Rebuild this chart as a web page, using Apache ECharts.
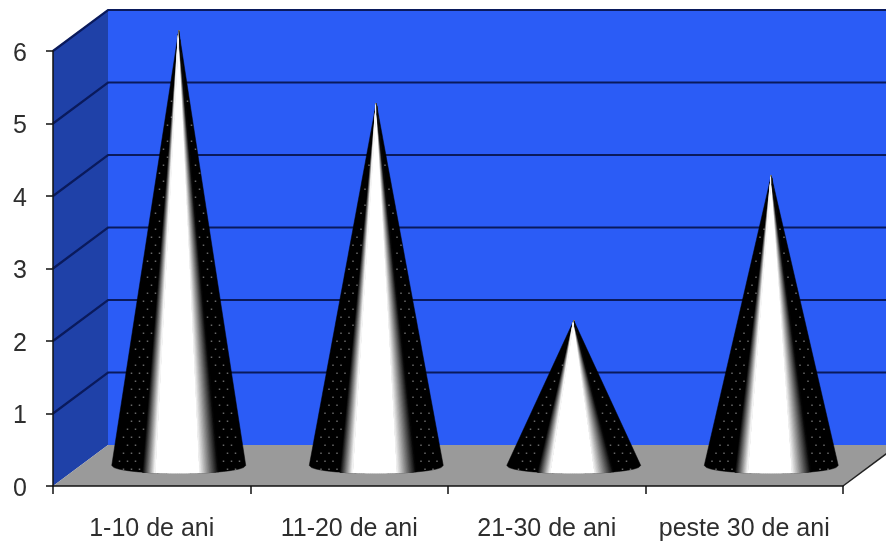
<!DOCTYPE html>
<html>
<head>
<meta charset="utf-8">
<style>html,body{margin:0;padding:0;background:#fff}#c{width:886px;height:544px}</style>
<script src="https://cdn.jsdelivr.net/npm/echarts@6/dist/echarts.min.js"></script>
</head>
<body>
<div id="c"></div>
<script>
const categories = ['1-10 de ani', '11-20 de ani', '21-30 de ani', 'peste 30 de ani'];
const values = [6, 5, 2, 4];
const yTicks = [0, 1, 2, 3, 4, 5, 6];

const DEPTH_X = 55, DEPTH_Y = 41;
const WALL = '#2b5cf6', SIDE = '#1f41a8', FLOOR = '#9a9a9a', GRID = '#0a1a5c';
const BASE_HALF = 67, BASE_RY = 8, DOT = 8;
const L0 = -0.54, L1 = -0.35, R0 = 0.31, R1 = 0.60, RAMP_STEPS = 30;

function grey(g) {
  const c = Math.round(g * 255);
  return 'rgb(' + c + ',' + c + ',' + c + ')';
}

function renderScene(params, api) {
  const cs = params.coordSys;
  const l = cs.x, r = cs.x + cs.width;
  const y0 = api.coord([0, 0])[1], yTop = api.coord([0, 6])[1];
  const poly = (pts, fill) => ({ type: 'polygon', shape: { points: pts }, style: { fill: fill } });
  return { type: 'group', children: [
    poly([[l + DEPTH_X, yTop - DEPTH_Y], [r + DEPTH_X, yTop - DEPTH_Y], [r + DEPTH_X, y0 - DEPTH_Y], [l + DEPTH_X, y0 - DEPTH_Y]], WALL),
    poly([[l, y0], [l, yTop], [l + DEPTH_X, yTop - DEPTH_Y], [l + DEPTH_X, y0 - DEPTH_Y]], SIDE),
    poly([[l, y0], [r, y0], [r + DEPTH_X, y0 - DEPTH_Y], [l + DEPTH_X, y0 - DEPTH_Y]], FLOOR),
    { type: 'line', shape: { x1: r, y1: y0, x2: r + DEPTH_X, y2: y0 - DEPTH_Y }, style: { stroke: '#222', lineWidth: 1.5 } }
  ] };
}

function renderGrid(params, api) {
  const cs = params.coordSys;
  const l = cs.x, r = cs.x + cs.width;
  const v = api.value(1), y = api.coord([0, v])[1];
  if (v === 0) return { type: 'group', children: [] };
  return { type: 'polyline', shape: { points: [[l, y], [l + DEPTH_X, y - DEPTH_Y], [r + DEPTH_X, y - DEPTH_Y]] },
    style: { stroke: GRID, lineWidth: 2.2, fill: null } };
}

function renderCone(params, api) {
  const p = api.coord([api.value(0), api.value(1)]);
  const b = api.coord([api.value(0), 0]);
  const cx = p[0] + DEPTH_X / 2 - 0.5, ay = p[1] - DEPTH_Y / 2, by = b[1] - DEPTH_Y / 2;
  const pt = t => [cx + t * BASE_HALF, by + BASE_RY * Math.sqrt(Math.max(0, 1 - t * t))];
  const sector = (t1, t2, col) => {
    const pts = [[cx, ay]];
    const n = Math.max(1, Math.ceil((t2 - t1) * 30));
    for (let i = 0; i <= n; i++) pts.push(pt(t1 + (t2 - t1) * i / n));
    return { type: 'polygon', shape: { points: pts }, style: { fill: col, stroke: col, lineWidth: 0.5 } };
  };
  const children = [sector(-1, 1, '#000'), sector(L1, R0, '#fff')];
  for (let i = 0; i < RAMP_STEPS; i++) {
    const a = i / RAMP_STEPS, c = (i + 1) / RAMP_STEPS, m = (a + c) / 2;
    children.push(sector(L0 + (L1 - L0) * a, L0 + (L1 - L0) * c, grey(m)));
    children.push(sector(R0 + (R1 - R0) * a, R0 + (R1 - R0) * c, grey(1 - m)));
  }
  let row = 0;
  for (let y = by + 3; y > ay + 34; y -= DOT) {
    const hw = BASE_HALF * (y - ay) / (by - ay);
    const shift = row % 2 ? DOT / 2 : 0;
    for (let k = -12; k <= 12; k++) {
      const x = cx + k * DOT + shift, t = (x - cx) / hw;
      if (Math.abs(t) < 0.92 && (t < -0.58 || t > 0.62)) {
        children.push({ type: 'rect', shape: { x: x, y: y, width: 1.5, height: 1.5 },
          style: { fill: 'rgba(190,190,190,0.55)' } });
      }
    }
    row++;
  }
  return { type: 'group', children: children };
}

const chart = echarts.init(document.getElementById('c'), null, { renderer: 'canvas' });
chart.setOption({
  animation: false,
  backgroundColor: '#ffffff',
  grid: { left: 53, right: 43, top: 51, bottom: 58 },
  xAxis: {
    type: 'category', data: categories, z: 10,
    axisLine: { lineStyle: { color: '#111', width: 1.5 } },
    axisTick: { show: true, length: 8, lineStyle: { color: '#111', width: 1.5 } },
    axisLabel: { fontFamily: 'Liberation Sans', fontSize: 25, color: '#2e2e2e', margin: 31, interval: 0 },
    splitLine: { show: false }
  },
  yAxis: {
    type: 'value', min: 0, max: 6, interval: 1, z: 10,
    axisLine: { show: true, lineStyle: { color: '#111', width: 1.5 } },
    axisTick: { show: true, length: 7, lineStyle: { color: '#111', width: 1.5 } },
    axisLabel: { fontFamily: 'Liberation Sans', fontSize: 25, color: '#2e2e2e', margin: 26, verticalAlign: 'top', lineHeight: 6 },
    splitLine: { show: false }
  },
  series: [
    { type: 'custom', coordinateSystem: 'cartesian2d', clip: false, z: 1, silent: true,
      data: [[0, 0]], renderItem: renderScene },
    { type: 'custom', coordinateSystem: 'cartesian2d', clip: false, z: 2, silent: true,
      data: yTicks.map(v => [0, v]), renderItem: renderGrid },
    { type: 'custom', coordinateSystem: 'cartesian2d', clip: false, z: 3,
      data: values.map((v, i) => [i, v]), renderItem: renderCone }
  ]
});
</script>
</body>
</html>
